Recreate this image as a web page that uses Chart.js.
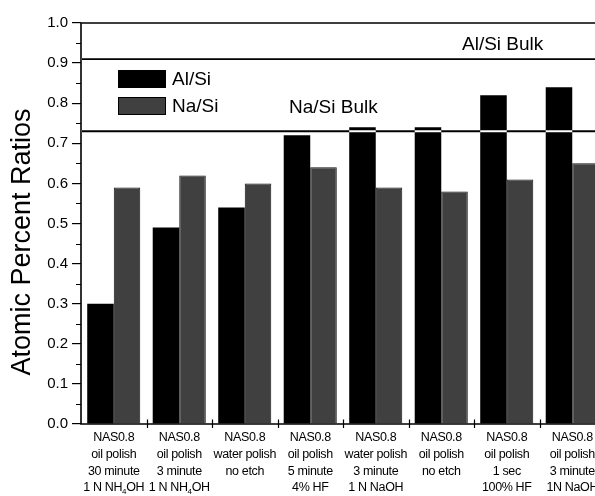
<!DOCTYPE html>
<html>
<head>
<meta charset="utf-8">
<script src="https://cdn.jsdelivr.net/npm/chart.js@4.4.1/dist/chart.umd.min.js"></script>
<style>
  html, body { margin: 0; padding: 0; background: #fff; overflow: hidden; }
  canvas { display: block; }
</style>
</head>
<body>
<canvas id="chart" width="607" height="496"></canvas>
<script>
// Sample labels (one line per array entry; ₄ is drawn as a subscript)
const categories = [
  ['NAS0.8', 'oil polish', '30 minute', '1 N NH₄OH'],
  ['NAS0.8', 'oil polish', '3 minute', '1 N NH₄OH'],
  ['NAS0.8', 'water polish', 'no etch'],
  ['NAS0.8', 'oil polish', '5 minute', '4% HF'],
  ['NAS0.8', 'water polish', '3 minute', '1 N NaOH'],
  ['NAS0.8', 'oil polish', 'no etch'],
  ['NAS0.8', 'oil polish', '1 sec', '100% HF'],
  ['NAS0.8', 'oil polish', '3 minute', '1N NaOH']
];

// Surface atomic ratios per sample
const alSi = [0.30, 0.49, 0.54, 0.72, 0.74, 0.74, 0.82, 0.84];
const naSi = [0.59, 0.62, 0.60, 0.64, 0.59, 0.58, 0.61, 0.65];

// Bulk reference ratios
const bulkNames = ['Al/Si Bulk', 'Na/Si Bulk'];
const bulkValues = [0.91, 0.73];

// Y axis range and ticks
const yMin = 0.0;
const yMax = 1.0;
const yStep = 0.1;
const yMinorStep = 0.05;

const FONT = '"Liberation Sans", Arial, Helvetica, sans-serif';
const SUBS = { '₀':'0','₁':'1','₂':'2','₃':'3','₄':'4','₅':'5','₆':'6','₇':'7','₈':'8','₉':'9' };

// Draws a line of text centred on cx, rendering unicode subscript digits small and lowered
function drawRichCentered(ctx, text, cx, cy, size) {
  const mainFont = size + 'px ' + FONT;
  const subFont = Math.round(size * 0.62) + 'px ' + FONT;
  const pieces = [];
  let buf = '';
  for (const ch of text) {
    if (SUBS[ch]) {
      if (buf) { pieces.push({ t: buf, sub: false }); buf = ''; }
      pieces.push({ t: SUBS[ch], sub: true });
    } else buf += ch;
  }
  if (buf) pieces.push({ t: buf, sub: false });
  let total = 0;
  for (const p of pieces) {
    ctx.font = p.sub ? subFont : mainFont;
    p.w = ctx.measureText(p.t).width;
    total += p.w;
  }
  let x = cx - total / 2;
  for (const p of pieces) {
    ctx.font = p.sub ? subFont : mainFont;
    ctx.fillText(p.t, x, p.sub ? cy + size * 0.32 : cy);
    x += p.w;
  }
}

const whiteBackground = {
  id: 'whiteBackground',
  beforeDraw(chart) {
    const ctx = chart.ctx;
    ctx.save();
    ctx.fillStyle = '#fff';
    ctx.fillRect(0, 0, chart.width, chart.height);
    ctx.restore();
  }
};

const decorations = {
  id: 'decorations',
  afterDraw(chart) {
    const ctx = chart.ctx;
    const area = chart.chartArea;
    const xs = chart.scales.x;
    const ys = chart.scales.y;
    ctx.save();

    // Frame: left axis, bottom axis, top edge
    ctx.strokeStyle = '#000';
    ctx.lineWidth = 1.6;
    ctx.beginPath();
    ctx.moveTo(area.left, area.top);
    ctx.lineTo(area.left, area.bottom);
    ctx.moveTo(area.left - 0.8, area.bottom);
    ctx.lineTo(area.right, area.bottom);
    ctx.moveTo(area.left - 0.8, area.top);
    ctx.lineTo(area.right, area.top);
    ctx.stroke();

    // Minor y ticks
    ctx.lineWidth = 1.2;
    ctx.beginPath();
    for (let v = yMin + yMinorStep; v < yMax; v += yStep) {
      const y = Math.round(ys.getPixelForValue(v)) + 0.5;
      ctx.moveTo(area.left - 5, y);
      ctx.lineTo(area.left, y);
    }
    ctx.stroke();

    // Category boundary ticks crossing the x axis
    const step = xs.getPixelForValue(1) - xs.getPixelForValue(0);
    ctx.beginPath();
    for (let i = 1; i < categories.length; i++) {
      const x = Math.round(xs.getPixelForValue(i) - step / 2) + 0.5;
      ctx.moveTo(x, area.bottom - 4.5);
      ctx.lineTo(x, area.bottom + 4);
    }
    ctx.stroke();

    // Bulk reference lines (inverted over the bars)
    ctx.save();
    ctx.globalCompositeOperation = 'difference';
    ctx.strokeStyle = '#fff';
    ctx.lineWidth = 1.8;
    ctx.beginPath();
    for (const v of bulkValues) {
      const y = ys.getPixelForValue(v);
      ctx.moveTo(area.left + 0.8, y);
      ctx.lineTo(area.right, y);
    }
    ctx.stroke();
    ctx.restore();

    // Bulk labels
    ctx.fillStyle = '#000';
    ctx.font = '19px ' + FONT;
    ctx.textBaseline = 'middle';
    ctx.textAlign = 'left';
    ctx.fillText(bulkNames[0], 462, 45);
    ctx.fillText(bulkNames[1], 289, 108);

    // Legend
    const ds = chart.data.datasets;
    ds.forEach((d, i) => {
      const top = 70 + i * 27;
      ctx.fillStyle = d.backgroundColor;
      ctx.fillRect(118, top, 48, 18);
      ctx.strokeStyle = '#000';
      ctx.lineWidth = 1;
      ctx.strokeRect(118.5, top + 0.5, 47, 17);
      ctx.fillStyle = '#000';
      ctx.font = '19px ' + FONT;
      ctx.fillText(d.label, 172, top + 9.5);
    });

    // Category labels
    ctx.fillStyle = '#000';
    ctx.textAlign = 'left';
    ctx.textBaseline = 'middle';
    ctx.letterSpacing = '-0.35px';
    categories.forEach((lines, i) => {
      const cx = xs.getPixelForValue(i);
      lines.forEach((t, k) => {
        drawRichCentered(ctx, t, cx, area.bottom + 13.5 + k * 16.8, 12.5);
      });
    });
    ctx.letterSpacing = '0px';

    // Y axis title
    ctx.translate(23, 242);
    ctx.rotate(-Math.PI / 2);
    ctx.textAlign = 'center';
    ctx.font = '27px ' + FONT;
    ctx.fillText('Atomic Percent Ratios', 0, 0);

    ctx.restore();
  }
};

new Chart(document.getElementById('chart'), {
  type: 'bar',
  data: {
    labels: categories.map(c => c.join(' ')),
    datasets: [
      { label: 'Al/Si', data: alSi, backgroundColor: '#000000', borderColor: '#000000', borderWidth: 0 },
      { label: 'Na/Si', data: naSi, backgroundColor: '#404040', borderColor: '#111111', borderWidth: 1 }
    ]
  },
  options: {
    responsive: false,
    animation: false,
    devicePixelRatio: 1,
    layout: { padding: { top: 23, right: 2, left: 0, bottom: 0 } },
    datasets: { bar: { categoryPercentage: 0.81, barPercentage: 1.0 } },
    plugins: { legend: { display: false }, tooltip: { enabled: false }, title: { display: false } },
    scales: {
      x: {
        offset: true,
        grid: { display: false },
        border: { display: false },
        ticks: { display: false },
        afterFit(scale) { scale.height = 72; }
      },
      y: {
        min: yMin,
        max: yMax,
        border: { display: false },
        grid: { display: true, drawOnChartArea: false, drawTicks: true, tickLength: 9, color: '#000', lineWidth: 1.2 },
        ticks: {
          stepSize: yStep,
          padding: 4,
          color: '#000',
          font: { family: FONT, size: 15 },
          callback: v => Number(v).toFixed(1)
        },
        afterFit(scale) { scale.width = 81; }
      }
    }
  },
  plugins: [whiteBackground, decorations]
});
</script>
</body>
</html>
